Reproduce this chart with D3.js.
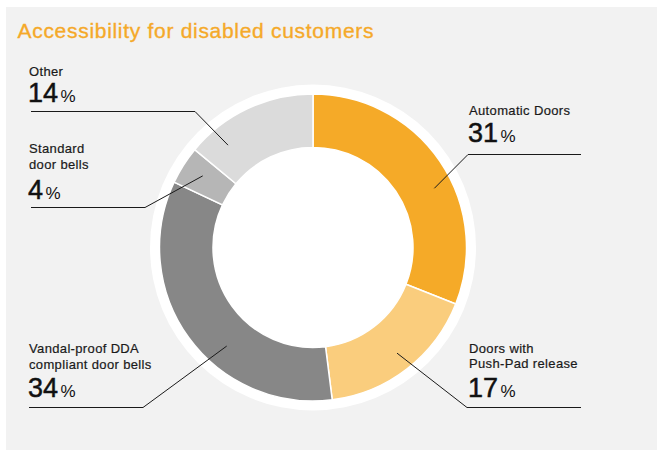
<!DOCTYPE html>
<html>
<head>
<meta charset="utf-8">
<script src="https://cdn.jsdelivr.net/npm/d3@7"></script>
<style>
  html, body { margin: 0; padding: 0; background: #ffffff; }
  svg { display: block; font-family: "Liberation Sans", Arial, Helvetica, sans-serif; }
</style>
</head>
<body>
<svg id="chart" width="657" height="450"></svg>
<script>
// Share of accessibility features, clockwise from 12 o'clock
const categories = ["Automatic Doors", "Doors with Push-Pad release", "Vandal-proof DDA compliant door bells", "Standard door bells", "Other"];
const values = [31, 17, 34, 4, 14];
const sliceColors = ["#F5AA28", "#FACD7D", "#878787", "#B6B6B6", "#DBDBDB"];
const title = "Accessibility for disabled customers";

// Label layout: wrapped name lines, text origin, leader anchor (polar), elbow and line end
const labelLayout = [
  { lines: ["Automatic Doors"], x: 469, nameY: 114.5, numY: 142, anchorDeg: 64, anchorR: 135, elbowX: 468, lineY: 154.5, endX: 581 },
  { lines: ["Doors with", "Push-Pad release"], x: 469, nameY: 352.5, numY: 396.5, anchorDeg: 141.5, anchorR: 135, elbowX: 467, lineY: 407.5, endX: 581 },
  { lines: ["Vandal-proof DDA", "compliant door bells"], x: 29, nameY: 353, numY: 396.5, anchorDeg: 221.2, anchorR: 131, elbowX: 143, lineY: 407.5, endX: 29 },
  { lines: ["Standard", "door bells"], x: 29, nameY: 153, numY: 199, anchorDeg: 303, anchorR: 131.5, elbowX: 145, lineY: 207.5, endX: 31 },
  { lines: ["Other"], x: 29, nameY: 76, numY: 102, anchorDeg: 320.3, anchorR: 133, elbowX: 195, lineY: 111.5, endX: 31 }
];

const svg = d3.select("#chart");
const W = 657, H = 450;
const cx = 313, cy = 247.5;
const rOuter = 153.5, rInner = 100, rHalo = 163;

// Panel background
svg.append("rect").attr("x", 6).attr("y", 7).attr("width", W - 6).attr("height", H - 7).attr("fill", "#F2F2F2");

// Title
svg.append("text")
  .attr("x", 17.5).attr("y", 37.5)
  .attr("fill", "#F5A929")
  .attr("stroke", "#F5A929")
  .attr("stroke-width", 0.35)
  .attr("font-size", 21)
  .attr("letter-spacing", 0.7)
  .text(title);

const g = svg.append("g").attr("transform", `translate(${cx},${cy})`);

// White halo behind the ring and the white hole
g.append("circle").attr("r", rHalo).attr("fill", "#ffffff");

const pie = d3.pie().sort(null).value(d => d).startAngle(0).endAngle(2 * Math.PI);
const arcs = pie(values);
const arc = d3.arc().innerRadius(rInner).outerRadius(rOuter);

g.selectAll("path.slice")
  .data(arcs)
  .join("path")
  .attr("class", "slice")
  .attr("d", arc)
  .attr("fill", (d, i) => sliceColors[i])
  .attr("stroke", "#ffffff")
  .attr("stroke-width", 1.5)
  .attr("stroke-linejoin", "miter");

// Leader lines
const polar = (deg, r) => {
  const a = deg * Math.PI / 180;
  return [cx + r * Math.sin(a), cy - r * Math.cos(a)];
};

const line = d3.line();
svg.selectAll("path.leader")
  .data(labelLayout)
  .join("path")
  .attr("class", "leader")
  .attr("d", d => line([polar(d.anchorDeg, d.anchorR), [d.elbowX, d.lineY], [d.endX, d.lineY]]))
  .attr("fill", "none")
  .attr("stroke", "#1a1a1a")
  .attr("stroke-width", 1);

// Labels
const labels = svg.selectAll("g.label")
  .data(labelLayout)
  .join("g")
  .attr("class", "label");

labels.each(function (d, i) {
  const sel = d3.select(this);
  d.lines.forEach((ln, k) => {
    sel.append("text")
      .attr("x", d.x)
      .attr("y", d.nameY + k * 15.5)
      .attr("fill", "#1a1a1a")
      .attr("stroke", "#1a1a1a")
      .attr("stroke-width", 0.2)
      .attr("font-size", 13)
      .attr("letter-spacing", 0.35)
      .text(ln);
  });
  const num = sel.append("text")
    .attr("x", d.x - 1)
    .attr("y", d.numY)
    .attr("fill", "#111111");
  num.append("tspan")
    .attr("font-size", 27)
    .attr("stroke", "#111111")
    .attr("stroke-width", 0.5)
    .text(values[i]);
  num.append("tspan")
    .attr("dx", 2.5)
    .attr("font-size", 17)
    .text("%");
});
</script>
</body>
</html>
